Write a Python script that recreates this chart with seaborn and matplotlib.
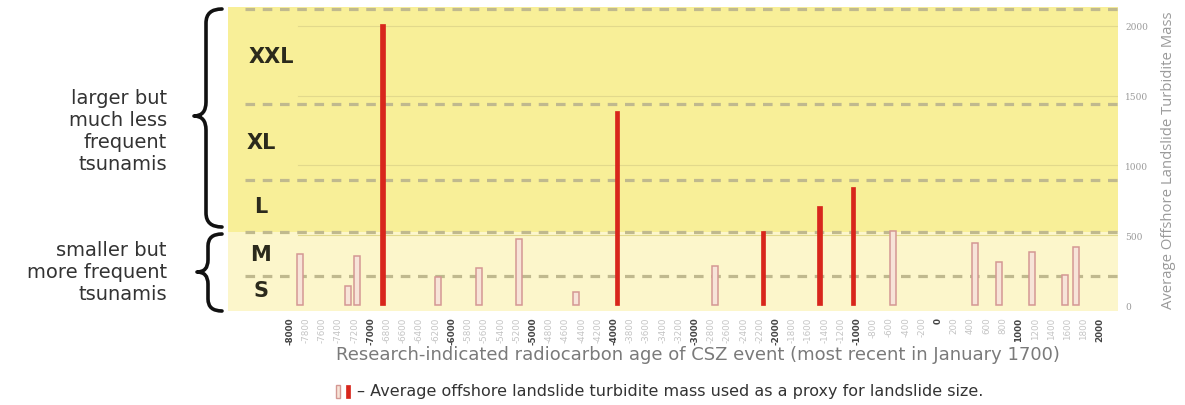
import numpy as np
import pandas as pd
import matplotlib
matplotlib.use("Agg")
import matplotlib.pyplot as plt
import seaborn as sns
from matplotlib.path import Path
from matplotlib.patches import PathPatch, Rectangle

# Radiocarbon-dated CSZ events (year, negative = BCE) and average turbidite mass
event_year = [-7880, -7280, -7170, -6860, -6170, -5670, -5170, -4470, -3960,
              -2750, -2160, -1460, -1050, -560, 460, 750, 1160, 1570, 1700]
turbidite_mass = [365, 136, 351, 2015, 201, 265, 473, 93, 1391,
                  280, 530, 710, 846, 530, 444, 308, 380, 215, 416]
event_kind = ["minor", "minor", "minor", "major", "minor", "minor", "minor", "minor", "major",
              "minor", "major", "major", "major", "minor", "minor", "minor", "minor", "minor", "minor"]

# Tsunami size classes and their upper boundaries on the mass axis
size_classes = ["S", "M", "L", "XL", "XXL"]
class_upper = [208, 523, 896, 1441, 2122]

mass_ticks = [0, 500, 1000, 1500, 2000]
year_ticks = list(range(-8000, 2001, 200))
year_labels = [str(y) for y in year_ticks]

df = pd.DataFrame({"year": event_year, "mass": turbidite_mass, "kind": event_kind})

W, H = 1185, 406
fig = plt.figure(figsize=(W / 100, H / 100), dpi=100)
fx = lambda px: px / W
fy = lambda py: 1 - py / H

ax = fig.add_axes([fx(228), fy(312), 890 / W, 304 / H])
XMIN, XMAX = -8765, 2222
YMIN, YMAX = -43, 2136

# background bands: large-event zone and small-event zone
ax.axhspan(YMIN, class_upper[1], color="#fcf6cb", zorder=0, lw=0)
ax.axhspan(class_upper[1], YMAX, color="#f8ef98", zorder=0, lw=0)

# thin solid gridlines for the mass axis
for t in mass_ticks[1:]:
    ax.plot([-7900, XMAX], [t, t], color="#e2d98c", lw=0.8, zorder=1)

# dashed class boundaries
for b in class_upper:
    ax.plot([-8560, XMAX], [b, b], color="#c0b98e", lw=2.3, ls=(0, (3.0, 2.4)), zorder=2)

# bars: minor events drawn as pale outlined bars, major events in solid red
minor = df[df["kind"] == "minor"]
major = df[df["kind"] == "major"]
minor_w = 74 / np.diff(np.sort(minor["year"].unique())).min()
major_w = 56 / np.diff(np.sort(major["year"].unique())).min()

sns.barplot(data=minor, x="year", y="mass", native_scale=True, orient="x",
            color="#f7e4d8", edgecolor="#d49893", linewidth=1.1,
            saturation=1, errorbar=None, width=minor_w, ax=ax, zorder=3)
sns.barplot(data=major, x="year", y="mass", native_scale=True, orient="x",
            color="#d8261c", edgecolor="#d8261c", linewidth=0.5,
            saturation=1, errorbar=None, width=major_w, ax=ax, zorder=4)

ax.set_xlim(XMIN, XMAX)
ax.set_ylim(YMIN, YMAX)
for s in ax.spines.values():
    s.set_visible(False)

# size class labels centred in each band
lowers = [0] + class_upper[:-1]
for name, lo, hi in zip(size_classes, lowers, class_upper):
    xpos = 0.049 if name == "XXL" else 0.037
    ax.text(xpos, (lo + hi) / 2, name, transform=ax.get_yaxis_transform(),
            ha="center", va="center", fontsize=15, fontweight="bold",
            color="#2b2a1c", family="DejaVu Sans")

# x axis: vertical year labels, every 1000 years emphasised
ax.set_xticks(year_ticks)
ax.set_xticklabels(year_labels, rotation=90, fontsize=6.3, va="top")
ax.tick_params(axis="x", length=0, pad=4)
for y, lab in zip(year_ticks, ax.get_xticklabels()):
    if y % 1000 == 0:
        lab.set_color("#444444")
        lab.set_fontweight("bold")
    else:
        lab.set_color("#c4c4c4")
ax.set_xlabel("")

# right-hand mass axis
ax.yaxis.tick_right()
ax.yaxis.set_label_position("right")
ax.set_yticks(mass_ticks)
ax.set_yticklabels([str(t) for t in mass_ticks], fontsize=6.5, color="#9a9a9a",
                   family="DejaVu Serif")
ax.tick_params(axis="y", length=0, pad=5)
ax.set_ylabel("Average Offshore Landslide Turbidite Mass", fontsize=10.7,
              color="#9a9a9a", labelpad=9, family="Open Sans")

# axis title and legend line below the chart
fig.text(fx(698), fy(355), "Research-indicated radiocarbon age of CSZ event (most recent in January 1700)",
         ha="center", va="center", fontsize=13, color="#7a7a7a", family="DejaVu Sans")
fig.patches.append(Rectangle((fx(336), fy(399)), 4 / W, 13 / H, transform=fig.transFigure,
                             facecolor="#f7e4d8", edgecolor="#d49893", lw=1.0))
fig.patches.append(Rectangle((fx(346), fy(399)), 4 / W, 13 / H, transform=fig.transFigure,
                             facecolor="#d8261c", edgecolor="#d8261c", lw=0.5))
fig.text(fx(357), fy(392), "\u2013 Average offshore landslide turbidite mass used as a proxy for landslide size.",
         ha="left", va="center", fontsize=11.5, color="#333333", family="DejaVu Sans")

# left-hand annotations with curly braces
fig.text(fx(167), fy(131), "larger but\nmuch less\nfrequent\ntsunamis", ha="right", va="center",
         fontsize=14, color="#333333", family="DejaVu Sans", linespacing=1.2)
fig.text(fx(167), fy(273), "smaller but\nmore frequent\ntsunamis", ha="right", va="center",
         fontsize=14, color="#333333", family="DejaVu Sans", linespacing=1.2)


def brace(xr, xm, xl, yt, ymid, yb, q):
    pts = [(xr, yt), (xm, yt), (xm, yt + q), (xm, ymid - q), (xm, ymid), (xl, ymid),
           (xm, ymid), (xm, ymid + q), (xm, yb - q), (xm, yb), (xr, yb)]
    codes = [Path.MOVETO, Path.CURVE3, Path.CURVE3, Path.LINETO, Path.CURVE3, Path.CURVE3,
             Path.CURVE3, Path.CURVE3, Path.LINETO, Path.CURVE3, Path.CURVE3]
    verts = [(fx(px), fy(py)) for px, py in pts]
    fig.patches.append(PathPatch(Path(verts, codes), transform=fig.transFigure,
                                 fill=False, lw=2.6, edgecolor="#111111",
                                 capstyle="round", joinstyle="round"))


brace(222, 206, 194, 10, 117, 228, 14)
brace(222, 208, 197, 235, 273, 312, 12)

fig.savefig("out.png", dpi=100)
